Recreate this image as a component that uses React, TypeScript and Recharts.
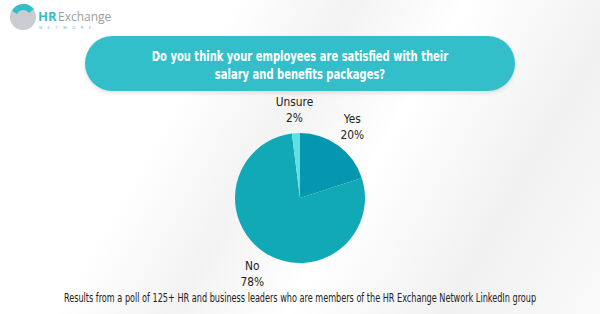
import React from "react";
import { PieChart, Pie, Cell } from "recharts";

const categories = ["Yes", "No", "Unsure"];
const shares = [20, 78, 2];
const colors = ["#0597b0", "#10a9b5", "#5fe0e6"];

const question = [
  "Do you think your employees are satisfied with their",
  "salary and benefits packages?",
];
const footnote =
  "Results from a poll of 125+ HR and business leaders who are members of the HR Exchange Network LinkedIn group";

const data = categories.map((name, i) => ({ name, value: shares[i] }));

const FONT = "'DejaVu Sans', sans-serif";
const RAD = Math.PI / 180;

// two-line label: name over percentage, placed just outside the slice
const renderLabel = (props: any) => {
  const { cx, cy, midAngle, outerRadius, name, value } = props;
  const r = outerRadius + 24;
  const x = cx + r * Math.cos(-midAngle * RAD);
  const y = cy + r * Math.sin(-midAngle * RAD);
  return (
    <g transform={`translate(${x},${y}) scale(0.82,1)`}>
      <text x={0} y={0} textAnchor="middle" fill="#222" fontFamily={FONT} fontSize={13}>
        <tspan x={0} dy={-3}>
          {name}
        </tspan>
        <tspan x={0} dy={16}>
          {value}%
        </tspan>
      </text>
    </g>
  );
};

const Logo = () => (
  <svg width={130} height={40} style={{ position: "absolute", left: 8, top: 2 }}>
    <circle cx={15} cy={15} r={13} fill="#c9ccd0" />
    <path d="M4 9 A13 13 0 0 1 26 7 L21 11 A7 7 0 0 0 9 12 Z" fill="#33bfca" />
    <text x={30} y={19} fontFamily="'Open Sans', sans-serif" fontSize={13} fill="#33bfca" fontWeight={700}>
      HR
    </text>
    <text x={50} y={19} fontFamily="'Open Sans', sans-serif" fontSize={12} fill="#9a9ea4">
      Exchange
    </text>
    <text x={31} y={27} fontFamily="'Open Sans', sans-serif" fontSize={4} fill="#33bfca" letterSpacing={5.5}>
      NETWORK
    </text>
  </svg>
);

export default function App() {
  return (
    <div
      style={{
        position: "absolute",
        left: 0,
        top: 0,
        width: 600,
        height: 314,
        overflow: "hidden",
        background:
          "linear-gradient(120deg, #ffffff 0%, #ffffff 30%, #f3f3f4 45%, #ffffff 60%, #f1f1f2 80%, #fafafa 100%)",
      }}
    >
      <Logo />
      <div
        style={{
          position: "absolute",
          left: 85,
          top: 36,
          width: 430,
          height: 55,
          borderRadius: 28,
          background: "#33bfca",
          boxShadow: "0 2px 4px rgba(0,0,0,0.12)",
        }}
      />
      <svg width={600} height={314} style={{ position: "absolute", left: 0, top: 0 }}>
        <g transform="translate(300,61) scale(0.74,1)">
          <text x={0} y={0} textAnchor="middle" fill="#fff" fontFamily={FONT} fontWeight={700} fontSize={13.5}>
            {question[0]}
          </text>
        </g>
        <g transform="translate(300,79) scale(0.74,1)">
          <text x={0} y={0} textAnchor="middle" fill="#fff" fontFamily={FONT} fontWeight={700} fontSize={13.5}>
            {question[1]}
          </text>
        </g>
        <g transform="translate(300,302) scale(0.626,1)">
          <text x={0} y={0} textAnchor="middle" fill="#222" fontFamily={FONT} fontSize={13}>
            {footnote}
          </text>
        </g>
      </svg>
      <div style={{ position: "absolute", left: 0, top: 0 }}>
        <PieChart width={600} height={314} margin={{ top: 0, right: 0, bottom: 0, left: 0 }}>
          <Pie
            data={data}
            dataKey="value"
            nameKey="name"
            cx={300}
            cy={198}
            outerRadius={65}
            startAngle={90}
            endAngle={-270}
            stroke="none"
            label={renderLabel}
            labelLine={false}
            isAnimationActive={false}
          >
            {data.map((d, i) => (
              <Cell key={d.name} fill={colors[i]} />
            ))}
          </Pie>
        </PieChart>
      </div>
    </div>
  );
}
